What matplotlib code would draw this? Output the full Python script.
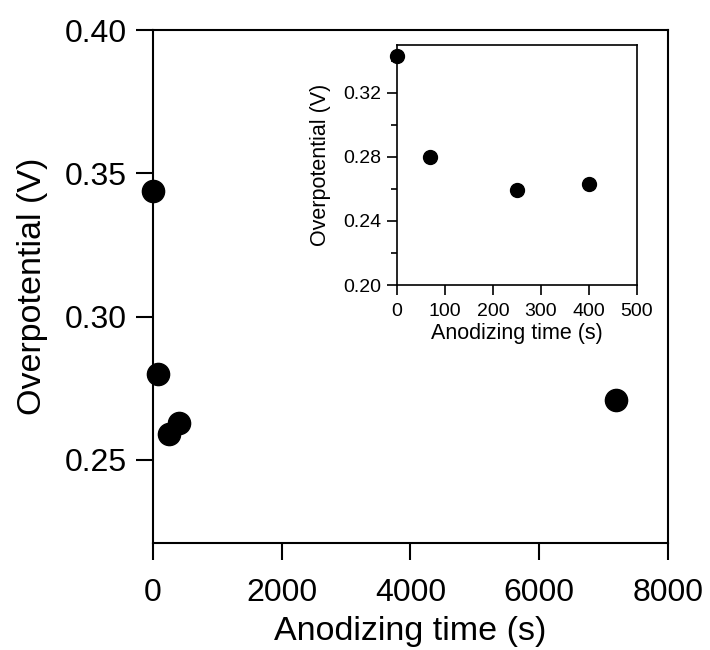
import matplotlib
matplotlib.use('Agg')
from matplotlib import pyplot as plt
from matplotlib.ticker import MultipleLocator

plt.rcParams['font.family'] = ['Liberation Sans', 'DejaVu Sans']

# Overpotential vs anodizing time
time_s = [0, 70, 250, 400, 7200]
overpot_v = [0.344, 0.280, 0.259, 0.263, 0.271]

# inset: first 500 s only
inset_time = [0, 70, 250, 400]
inset_overpot = [0.343, 0.280, 0.259, 0.263]

main_xticks = [0, 2000, 4000, 6000, 8000]
main_yticks = [0.25, 0.30, 0.35, 0.40]
inset_xticks = [0, 100, 200, 300, 400, 500]
inset_yticks = [0.20, 0.24, 0.28, 0.32]

fig = plt.figure(figsize=(7.1, 6.5), dpi=100)
ax = fig.add_axes([0.2155, 0.1646, 0.725, 0.789])

ax.plot(time_s, overpot_v, 'o', color='k', markersize=16, clip_on=False, zorder=5)
ax.set_xlim(0, 8000)
ax.set_ylim(0.221, 0.40)
ax.set_xticks(main_xticks)
ax.set_yticks(main_yticks)
ax.set_yticklabels(['%.2f' % v for v in main_yticks])
ax.tick_params(direction='out', length=12, width=1.5, labelsize=23)
ax.tick_params(axis='x', pad=13)
ax.tick_params(axis='y', pad=7)
for s in ax.spines.values():
    s.set_linewidth(1.5)
ax.set_xlabel('Anodizing time (s)', fontsize=24.5, labelpad=6)
ax.set_ylabel('Overpotential (V)', fontsize=24.5, labelpad=12)

ins = fig.add_axes([0.559, 0.5615, 0.338, 0.370])
ins.plot(inset_time, inset_overpot, 'o', color='k', markersize=10, clip_on=False, zorder=5)
ins.set_xlim(0, 500)
ins.set_ylim(0.20, 0.35)
ins.set_xticks(inset_xticks)
ins.set_yticks(inset_yticks)
ins.set_yticklabels(['%.2f' % v for v in inset_yticks])
ins.yaxis.set_minor_locator(MultipleLocator(0.02))
ins.tick_params(direction='out', length=7, width=1.2, labelsize=14)
ins.tick_params(axis='x', pad=6)
ins.tick_params(axis='y', pad=4)
ins.tick_params(which='minor', direction='out', length=4, width=1.2)
for s in ins.spines.values():
    s.set_linewidth(1.2)
ins.set_xlabel('Anodizing time (s)', fontsize=15.5, labelpad=2)
ins.set_ylabel('Overpotential (V)', fontsize=15.5, labelpad=9)

plt.savefig('out.png', dpi=100)
